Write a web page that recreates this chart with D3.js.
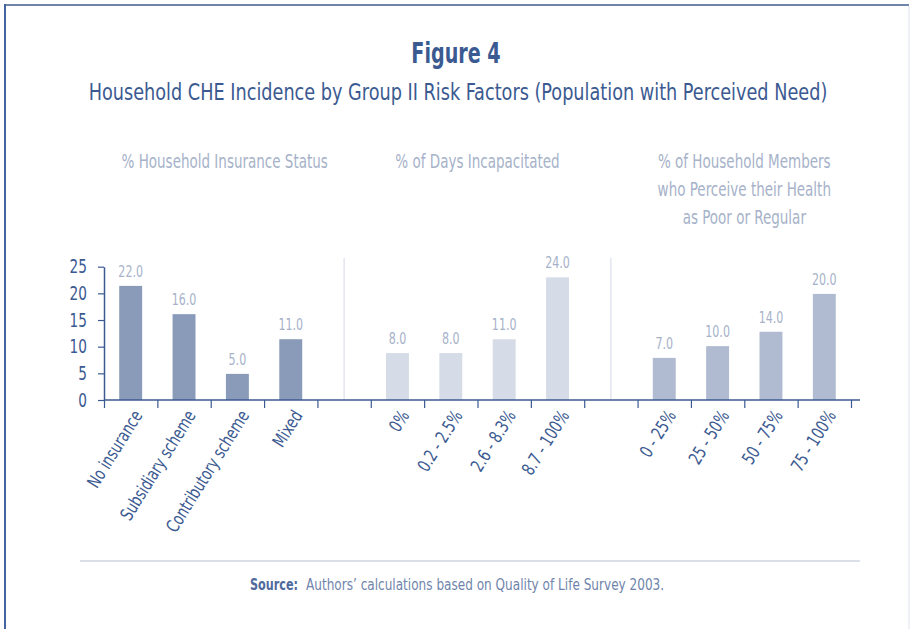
<!DOCTYPE html>
<html>
<head>
<meta charset="utf-8">
<script src="https://cdn.jsdelivr.net/npm/d3@7"></script>
<style>
  body { margin: 0; background: #fff; }
  svg text { font-family: "Liberation Sans Narrow", "DejaVu Sans Condensed", "Roboto Condensed", sans-serif; }
</style>
</head>
<body>
<div class="canvas"></div>
<script>
// ---------------- data ----------------
const groupTitles = [
  ['% Household Insurance Status'],
  ['% of Days Incapacitated'],
  ['% of Household Members', 'who Perceive their Health', 'as Poor or Regular']
];
const insuranceCats = ['No insurance', 'Subsidiary scheme', 'Contributory scheme', 'Mixed'];
const insuranceVals = [21.4, 16.1, 4.9, 11.4];
const insuranceLabels = ['22.0', '16.0', '5.0', '11.0'];

const daysCats = ['0%', '0.2 - 2.5%', '2.6 - 8.3%', '8.7 - 100%'];
const daysVals = [8.8, 8.8, 11.4, 23.0];
const daysLabels = ['8.0', '8.0', '11.0', '24.0'];

const healthCats = ['0 - 25%', '25 - 50%', '50 - 75%', '75 - 100%'];
const healthVals = [7.9, 10.1, 12.8, 19.9];
const healthLabels = ['7.0', '10.0', '14.0', '20.0'];

const yTicks = [0, 5, 10, 15, 20, 25];

const groupColors = ['#8a9bb9', '#d5dce7', '#b0bbd1'];
const dark = '#3b5a91';
const light = '#a6b2c9';

// squeeze text horizontally around its anchor (the original face is a condensed one)
const condense = (sel, k) => {
  sel.each(function () {
    const t = d3.select(this);
    const x0 = +t.attr('x') || 0, y0 = +t.attr('y') || 0;
    const prev = t.attr('transform') || '';
    t.attr('transform', `${prev} translate(${x0},${y0}) scale(${k},1) translate(${-x0},${-y0})`);
  });
};

// ---------------- setup ----------------
const W = 910, H = 629;
const svg = d3.select('.canvas')
  .append('svg')
  .attr('width', W)
  .attr('height', H);

// frame
svg.append('line').attr('x1', 4).attr('x2', 909).attr('y1', 5).attr('y2', 5)
  .attr('stroke', '#7185a8').attr('stroke-width', 2);
svg.append('line').attr('x1', 5).attr('x2', 5).attr('y1', 4).attr('y2', H)
  .attr('stroke', '#4463a0').attr('stroke-width', 2);
svg.append('line').attr('x1', 909).attr('x2', 909).attr('y1', 6).attr('y2', H)
  .attr('stroke', '#dde2ec').attr('stroke-width', 1);

// titles
svg.append('text').attr('x', 456).attr('y', 63)
  .attr('text-anchor', 'middle').attr('font-weight', 'bold')
  .attr('font-size', 28).attr('fill', dark)
  .text('Figure 4')
  .call(condense, 0.76);
svg.append('text').attr('x', 458).attr('y', 100)
  .attr('text-anchor', 'middle').attr('font-size', 23).attr('fill', dark)
  .text('Household CHE Incidence by Group II Risk Factors (Population with Perceived Need)')
  .call(condense, 0.855);

// build the rows: groups separated by a gap slot
const groups = [
  { cats: insuranceCats, vals: insuranceVals, labels: insuranceLabels },
  { cats: daysCats, vals: daysVals, labels: daysLabels },
  { cats: healthCats, vals: healthVals, labels: healthLabels }
];
const rows = [];
const slots = [];
groups.forEach((g, gi) => {
  if (gi > 0) slots.push('gap' + gi);
  g.cats.forEach((c, i) => {
    slots.push(c);
    rows.push({ cat: c, value: g.vals[i], label: g.labels[i], group: gi });
  });
});

// scales
const x = d3.scaleBand().domain(slots).range([104, 851]).padding(0);
const y = d3.scaleLinear().domain([0, 25]).range([400, 266.7]);
const edge = d3.scaleLinear().domain([0, slots.length]).range([104, 851]);
const barW = x.bandwidth() * 0.43;

// group separators
['gap1', 'gap2'].forEach(g => {
  svg.append('line')
    .attr('x1', x(g) + x.bandwidth() / 2).attr('x2', x(g) + x.bandwidth() / 2)
    .attr('y1', 258).attr('y2', 400)
    .attr('stroke', '#d3d9e5').attr('stroke-width', 1);
});

// group headers
const headerShift = [14, 0, 0];
groups.forEach((g, gi) => {
  const cx = (x(g.cats[0]) + x(g.cats[g.cats.length - 1]) + x.bandwidth()) / 2 + headerShift[gi];
  groupTitles[gi].forEach((t, li) => {
    svg.append('text')
      .attr('class', 'head')
      .attr('x', cx).attr('y', 168 + li * 28)
      .attr('text-anchor', 'middle').attr('font-size', 19)
      .attr('fill', light).text(t);
  });
});
condense(svg.selectAll('text.head'), 0.79);

// bars
svg.selectAll('rect.bar')
  .data(rows)
  .enter().append('rect')
  .attr('class', 'bar')
  .attr('x', d => x(d.cat) + (x.bandwidth() - barW) / 2)
  .attr('y', d => y(d.value))
  .attr('width', barW)
  .attr('height', d => y(0) - y(d.value))
  .attr('fill', d => groupColors[d.group]);

// value labels
svg.selectAll('text.val')
  .data(rows)
  .enter().append('text')
  .attr('class', 'val')
  .attr('x', d => x(d.cat) + x.bandwidth() / 2)
  .attr('y', d => y(d.value) - 9)
  .attr('text-anchor', 'middle')
  .attr('font-size', 16)
  .attr('fill', light)
  .text(d => d.label)
  .call(condense, 0.77);

// y axis
const yAxis = d3.axisLeft(y).tickValues(yTicks).tickSize(6).tickSizeOuter(0).tickPadding(11);
const yG = svg.append('g').attr('transform', 'translate(104,0)').call(yAxis);
yG.select('.domain').attr('stroke', dark).attr('stroke-width', 1.5);
yG.selectAll('.tick line').attr('stroke', dark).attr('stroke-width', 1.2);
yG.selectAll('text').attr('font-size', 19).attr('fill', dark).attr('font-family', null)
  .call(condense, 0.8);

// x axis: ticks on slot edges
const xAxis = d3.axisBottom(edge).tickValues(d3.range(slots.length + 1))
  .tickFormat('').tickSize(8).tickSizeOuter(0);
const xG = svg.append('g').attr('transform', 'translate(0,400)').call(xAxis);
xG.select('.domain').attr('d', 'M104,0H860').attr('stroke', dark).attr('stroke-width', 1.5);
xG.selectAll('.tick line').attr('stroke', dark).attr('stroke-width', 1.2);

// category labels
svg.selectAll('text.cat')
  .data(rows)
  .enter().append('text')
  .attr('class', 'cat')
  .attr('transform', d => `translate(${x(d.cat) + x.bandwidth() / 2 + 7},${412}) rotate(-58)`)
  .attr('text-anchor', 'end')
  .attr('dy', '0.35em')
  .attr('font-size', 18)
  .attr('fill', dark)
  .text(d => d.cat)
  .call(condense, 0.82);

// source
svg.append('line').attr('x1', 80).attr('x2', 860).attr('y1', 561).attr('y2', 561)
  .attr('stroke', '#cfd5e1').attr('stroke-width', 1.5);
svg.append('text').attr('x', 250).attr('y', 590).attr('font-size', 16)
  .attr('font-weight', 'bold').attr('fill', '#4f6a9c')
  .text('Source:')
  .call(condense, 0.78);
svg.append('text').attr('x', 306).attr('y', 590).attr('font-size', 16)
  .attr('fill', '#6f84ab')
  .text('Authors\u2019 calculations based on Quality of Life Survey 2003.')
  .call(condense, 0.84);
</script>
</body>
</html>
